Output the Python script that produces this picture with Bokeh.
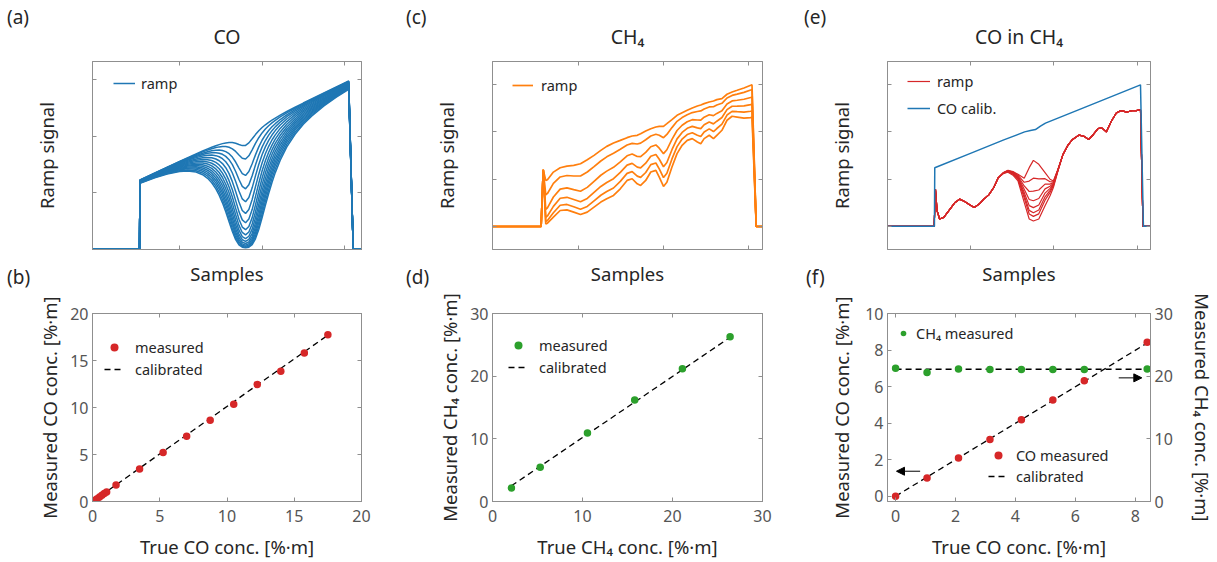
import numpy as np
from bokeh.plotting import figure
from bokeh.models import (Range1d, LinearAxis, FixedTicker, Legend, LegendItem,
                          Arrow, NormalHead, GridBox, Div)
from bokeh.embed import file_html
from bokeh.resources import INLINE

# ------------------------------------------------------------------ data
# (a) CO ramps: sample axis, CO-free ramp, normalised CO line shape, peak absorbance per ramp
co_samples = [-6, 51.5, 52, 70, 85, 100, 110, 120, 128, 134, 139, 144,
              148, 152, 156, 160, 164, 168, 172, 176, 180, 184,
              188, 192, 196, 200, 204, 208, 212, 216, 222, 230,
              240, 250, 260, 275, 290, 305, 310.5, 321]
co_ramp_base = [0, 0, 1.23, 1.354, 1.458, 1.562, 1.631, 1.700, 1.756, 1.797, 1.832, 1.866,
                1.894, 1.922, 1.949, 1.977, 2.005, 2.032, 2.060, 2.088, 2.115, 2.143,
                2.171, 2.198, 2.226, 2.254, 2.281, 2.309, 2.337, 2.364, 2.406, 2.461,
                2.530, 2.600, 2.669, 2.772, 2.876, 2.980, 0, 0]
co_line_shape = [0, 0, 0.0116, 0.0156, 0.0208, 0.0291, 0.0377, 0.0506, 0.0663, 0.0832, 0.1025, 0.129,
                 0.158, 0.197, 0.25, 0.324, 0.429, 0.571, 0.75, 0.923, 1.0, 0.923,
                 0.75, 0.571, 0.429, 0.324, 0.25, 0.197, 0.158, 0.129, 0.0982, 0.0713,
                 0.0506, 0.0377, 0.0291, 0.0208, 0.0156, 0.0121, 0, 0]
co_peak_absorbance = [0.14, 0.28, 0.48, 0.68, 0.92, 1.2, 1.5, 1.8,
                      2.1, 2.4, 2.7, 3.0, 3.3, 3.6, 3.95, 4.3]

# (b) CO calibration
co_true = [0.175, 0.35, 0.525, 0.7, 0.875, 1.05, 1.75, 3.5, 5.25, 7.0,
           8.75, 10.5, 12.25, 14.0, 15.75, 17.5]
co_measured = [0.12, 0.3, 0.48, 0.66, 0.85, 1.02, 1.75, 3.45, 5.2, 6.95,
               8.65, 10.35, 12.45, 13.85, 15.8, 17.75]
co_cal_x = [0.0, 17.5]
co_cal_y = [0.0, 17.7]

# (c) CH4 ramps: sample axis, lowest-concentration ramp, CH4 absorbance per %.m
ch4_samples = [-2, 55.5, 58, 61, 63, 70, 78, 86, 94, 102, 110, 118, 126,
               133, 141, 149, 157, 163, 169, 173, 179, 185, 191,
               195, 200, 204, 210, 216, 222, 228, 234, 240, 244,
               248, 254, 259, 263, 269, 275, 281, 287, 295, 303,
               304.5, 309.5, 317]
ch4_ramp_lowest = [0, 0, 1.2, 0.975, 0.989, 1.151, 1.243, 1.278, 1.292, 1.328, 1.412, 1.504, 1.610,
                   1.695, 1.766, 1.822, 1.879, 1.914, 1.928, 1.963, 2.020, 2.069, 2.105,
                   2.119, 2.119, 2.175, 2.260, 2.352, 2.408, 2.458, 2.507, 2.549, 2.571,
                   2.599, 2.634, 2.655, 2.684, 2.705, 2.797, 2.846, 2.881, 2.931, 2.987,
                   3.0, 0, 0]
ch4_absorbance = [0, 0, 0, 0.1176, 0.1084, 0.0724, 0.0535, 0.0530, 0.0595, 0.0681, 0.0632, 0.0535, 0.0468,
                  0.0437, 0.0407, 0.0340, 0.0270, 0.0263, 0.0312, 0.0335, 0.0300, 0.0241, 0.0236,
                  0.0291, 0.0377, 0.0346, 0.0241, 0.0174, 0.0139, 0.0123, 0.0123, 0.0146, 0.0158,
                  0.0138, 0.0128, 0.0147, 0.0136, 0.0117, 0.0090, 0.0082, 0.0090, 0.0101, 0.0107,
                  0.0107, 0, 0]

# (d) CH4 calibration
ch4_true = [2.1, 5.3, 10.55, 15.8, 21.1, 26.4]
ch4_measured = [2.14, 5.46, 10.93, 16.18, 21.2, 26.3]
ch4_cal_x = [2.1, 26.3]
ch4_cal_y = [2.5, 26.1]

# (e) CO in CH4 ramps: CO-free ramp, CO absorbance per %.m, CO calibration ramp
mix_samples = [0, 56.5, 58, 60, 63, 68, 75.5, 81.5, 87, 93,
               99, 104.5, 110.5, 116, 122, 128, 133.5, 139.5, 145, 151,
               157, 164.5, 170.5, 175.5, 182, 189.5, 195.5, 199.5, 205, 211,
               217, 222.5, 230, 236, 242, 247.5, 253, 257.5, 263, 269,
               275, 280.5, 288, 294, 299, 304, 307, 316.5]
mix_ramp_co_free = [0, 0, 0.79, 0.33, 0.155, 0.19, 0.366, 0.506, 0.576, 0.527,
                    0.457, 0.40, 0.471, 0.576, 0.667, 0.822, 1.032, 1.137, 1.186, 1.158,
                    1.102, 1.018, 1.243, 1.397, 1.313, 1.137, 0.997, 0.962, 1.208, 1.523,
                    1.72, 1.839, 1.93, 1.909, 1.839, 1.945, 2.071, 2.085, 2.0, 2.225,
                    2.401, 2.45, 2.42, 2.45, 2.45, 2.47, 0, 0]
mix_co_absorbance = [0, 0, 0, 0, 0, 0, 0, 0, 0, 0,
                     0, 0, 0, 0, 0, 0, 0, 0.002, 0.004, 0.008,
                     0.016, 0.083, 0.248, 0.30, 0.254, 0.114, 0.0515, 0.0187, 0.0035, 0,
                     0, 0, 0, 0, 0, 0, 0, 0, 0, 0,
                     0, 0, 0, 0, 0, 0, 0, 0]
calib_samples = [0, 56.8, 57.2, 100, 140, 165, 172, 178, 184, 190, 240, 304, 307.5, 316.5]
calib_ramp = [0, 0, 1.24, 1.546, 1.83, 2.0, 2.03, 2.05, 2.12, 2.186, 2.541, 2.996, 0, 0]

# (f) CO in CH4 calibration
mix_co_true = [0, 1.05, 2.1, 3.15, 4.2, 5.25, 6.3, 8.4]
mix_co_measured = [0.0, 1.0, 2.1, 3.11, 4.19, 5.28, 6.33, 8.45]
mix_ch4_measured = [21.25, 20.6, 21.15, 21.05, 21.05, 21.05, 21.05, 21.15]
mix_co_cal_x = [0.0, 8.4]
mix_co_cal_y = [0.0, 8.4]
mix_ch4_cal_x = [0.0, 8.4]
mix_ch4_cal_y = [21.1, 21.1]

# tick values
ramp_x_ticks = [100, 200, 300]
ramp_y_ticks = [0, 1, 2, 3]
co_ticks = [0, 5, 10, 15, 20]
ch4_ticks = [0, 10, 20, 30]
mix_x_ticks = [0, 2, 4, 6, 8]
mix_co_ticks = [0, 2, 4, 6, 8, 10]
mix_ch4_ticks = [0, 10, 20, 30]

# transmitted ramps (Beer-Lambert on the read profiles)
co_ramps = [[b * np.exp(-a * s) for b, s in zip(co_ramp_base, co_line_shape)]
            for a in co_peak_absorbance]
ch4_ramps = [[t * np.exp(-(c - ch4_true[0]) * q) for t, q in zip(ch4_ramp_lowest, ch4_absorbance)]
             for c in ch4_true]
mix_ramps = [[r * np.exp(-c * k) for r, k in zip(mix_ramp_co_free, mix_co_absorbance)]
             for c in mix_co_true]

# ------------------------------------------------------------------ style
FONT = "Noto Sans"
AXC = "#8f8f8f"
TXT = "#262626"
TICKC = "#555555"
BLUE, ORANGE, GREEN, RED = "#1f77b4", "#ff7f0e", "#2ca02c", "#d62728"


def base_fig(w, h, bl, br, bt, bb, xr, yr, title=None):
    p = figure(width=w, height=h, x_range=Range1d(*xr), y_range=Range1d(*yr),
               output_backend="svg", toolbar_location=None, title=title,
               min_border_left=bl, min_border_right=br,
               min_border_top=bt, min_border_bottom=bb)
    p.grid.visible = False
    p.outline_line_color = AXC
    p.background_fill_color = "white"
    p.border_fill_color = "white"
    return p


def style_axis(ax, ticks, labels=True, label=None, tick_standoff=4, label_standoff=10):
    ax.ticker = FixedTicker(ticks=ticks)
    ax.major_tick_in = 4
    ax.major_tick_out = 0
    ax.minor_tick_in = 0
    ax.minor_tick_out = 0
    ax.axis_line_color = AXC
    ax.major_tick_line_color = AXC
    ax.major_label_text_font = FONT
    if labels:
        ax.major_label_text_color = TICKC
        ax.major_label_text_font_size = "16px"
        ax.major_label_standoff = tick_standoff
    else:
        ax.major_label_text_color = None
        ax.major_label_text_font_size = "1px"
        ax.major_label_standoff = 0
    if label:
        ax.axis_label = label
        ax.axis_label_text_font = FONT
        ax.axis_label_text_font_size = "18.5px"
        ax.axis_label_text_font_style = "normal"
        ax.axis_label_text_color = TXT
        ax.axis_label_standoff = label_standoff


def mirror(p, xticks, yticks, right=True):
    top = LinearAxis()
    style_axis(top, xticks, labels=False)
    p.add_layout(top, "above")
    if right:
        r = LinearAxis()
        style_axis(r, yticks, labels=False)
        p.add_layout(r, "right")


def legend(p, items, loc, glyph_width=20, standoff=8, spacing=2):
    lg = Legend(items=[LegendItem(label=t, renderers=[r]) for t, r in items],
                location=loc, orientation="vertical",
                border_line_alpha=0, background_fill_alpha=0,
                padding=0, margin=0, spacing=spacing,
                glyph_width=glyph_width, glyph_height=20, label_height=20,
                label_standoff=standoff, label_text_font=FONT,
                label_text_font_size="14.5px", label_text_color=TXT)
    p.add_layout(lg)


def ramp_panel(w, bl, br, bt, xr, yr, name):
    p = base_fig(w, 290, bl, br, bt, 41, xr, yr, title=name)
    p.title.align = "center"
    p.title.text_font = FONT
    p.title.text_font_size = "19.5px"
    p.title.text_font_style = "normal"
    p.title.text_color = TXT
    p.title.standoff = 23
    style_axis(p.xaxis[0], ramp_x_ticks, labels=False, label="Samples", label_standoff=11)
    style_axis(p.yaxis[0], ramp_y_ticks, labels=False, label="Ramp signal", label_standoff=34)
    mirror(p, ramp_x_ticks, ramp_y_ticks)
    return p


# ------------------------------------------------------------------ (a)
pa = ramp_panel(408, 92, 47, 61, (-5.5, 320.5), (0, 3.32), "CO")
ra = pa.multi_line(xs=[co_samples] * len(co_ramps), ys=co_ramps, line_color=BLUE, line_width=1.5)
legend(pa, [("ramp", ra)], (21, 156), glyph_width=22, standoff=6)

# ------------------------------------------------------------------ (c)
pc = ramp_panel(400, 84, 46, 61, (-1.9, 316.9), (-0.486, 3.49), "CH\u2084")
rc = pc.multi_line(xs=[ch4_samples] * len(ch4_ramps), ys=ch4_ramps, line_color=ORANGE, line_width=1.7)
legend(pc, [("ramp", rc)], (20, 154), glyph_width=21, standoff=8)

# ------------------------------------------------------------------ (e)
pe = ramp_panel(409, 77, 60, 60, (0.5, 316.0), (-0.49, 3.49), "CO in CH\u2084")
re_ = pe.multi_line(xs=[mix_samples] * len(mix_ramps), ys=mix_ramps, line_color=RED, line_width=1.2)
rb = pe.line(calib_samples, calib_ramp, line_color=BLUE, line_width=1.5)
legend(pe, [("ramp", re_), ("CO calib.", rb)], (20, 131), glyph_width=23, standoff=7, spacing=7)

# ------------------------------------------------------------------ (b)
pb = base_fig(408, 272, 91, 47, 23, 61, (0, 20), (0, 20))
style_axis(pb.xaxis[0], co_ticks, label="True CO conc. [%\u00b7m]", tick_standoff=8, label_standoff=9)
style_axis(pb.yaxis[0], co_ticks, label="Measured CO conc. [%\u00b7m]", tick_standoff=4, label_standoff=5)
mirror(pb, co_ticks, co_ticks)
lb = pb.line(co_cal_x, co_cal_y, line_color="black", line_width=1.3, line_dash="6 4")
sb = pb.scatter(co_true, co_measured, size=7.5, fill_color=RED, line_color=None)
legend(pb, [("measured", sb), ("calibrated", lb)], (12, 122), glyph_width=20, standoff=11)

# ------------------------------------------------------------------ (d)
pd_ = base_fig(400, 272, 83, 46, 23, 61, (0, 30), (0, 30))
style_axis(pd_.xaxis[0], ch4_ticks, label="True CH\u2084 conc. [%\u00b7m]", tick_standoff=8, label_standoff=9)
style_axis(pd_.yaxis[0], ch4_ticks, label="Measured CH\u2084 conc. [%\u00b7m]", tick_standoff=4, label_standoff=5)
mirror(pd_, ch4_ticks, ch4_ticks)
ld = pd_.line(ch4_cal_x, ch4_cal_y, line_color="black", line_width=1.3, line_dash="6 4")
sd = pd_.scatter(ch4_true, ch4_measured, size=7.5, fill_color=GREEN, line_color=None)
legend(pd_, [("measured", sd), ("calibrated", ld)], (16, 124), glyph_width=20, standoff=11)

# ------------------------------------------------------------------ (f)
pf = base_fig(409, 272, 79, 63, 23, 61, (-0.27, 8.51), (-0.29, 10.02))
pf.extra_y_ranges = {"ch4": Range1d(0, 30)}
style_axis(pf.xaxis[0], mix_x_ticks, label="True CO conc. [%\u00b7m]", tick_standoff=8, label_standoff=9)
style_axis(pf.yaxis[0], mix_co_ticks, label="Measured CO conc. [%\u00b7m]", tick_standoff=4, label_standoff=8)
top_f = LinearAxis()
style_axis(top_f, mix_x_ticks, labels=False)
pf.add_layout(top_f, "above")
right_f = LinearAxis(y_range_name="ch4")
style_axis(right_f, mix_ch4_ticks, label="Measured CH\u2084 conc. [%\u00b7m]", tick_standoff=4, label_standoff=14)
pf.add_layout(right_f, "right")
lf1 = pf.line(mix_co_cal_x, mix_co_cal_y, line_color="black", line_width=1.3, line_dash="6 4")
pf.line(mix_ch4_cal_x, mix_ch4_cal_y, line_color="black", line_width=1.3, line_dash="6 4", y_range_name="ch4")
sf_co = pf.scatter(mix_co_true, mix_co_measured, size=7.5, fill_color=RED, line_color=None)
sf_ch4 = pf.scatter(mix_co_true, mix_ch4_measured, size=7.5, fill_color=GREEN, line_color=None, y_range_name="ch4")
legend(pf, [("CH\u2084 measured", sf_ch4)], (9, 158), glyph_width=14, standoff=6)
legend(pf, [("CO measured", sf_co), ("calibrated", lf1)], (101, 15), glyph_width=20, standoff=8, spacing=1)
pf.add_layout(Arrow(end=NormalHead(size=8, fill_color="black", line_color="black"),
                    x_start=0.82, y_start=1.37, x_end=0.03, y_end=1.37,
                    line_color="black", line_width=1))
pf.add_layout(Arrow(end=NormalHead(size=8, fill_color="black", line_color="black"),
                    x_start=7.45, y_start=6.49, x_end=8.22, y_end=6.49,
                    line_color="black", line_width=1))

# ------------------------------------------------------------------ panel letters (transparent overlay)
letters = [("(a)", 7, 4), ("(b)", 7, 264), ("(c)", 406, 4),
           ("(d)", 406, 264), ("(e)", 804, 4), ("(f)", 806, 264)]
spans = "".join(
    '<span style="position:absolute;left:%dpx;top:%dpx;font-family:\'Noto Sans\';'
    'font-size:19px;line-height:normal;color:%s;white-space:nowrap;">%s</span>' % (x, y, TXT, t)
    for t, x, y in letters)
ov = Div(text='<div style="position:relative;width:1217px;height:562px;">' + spans + '</div>',
         width=1217, height=562, margin=(0, 0, 0, 0))

layout = GridBox(children=[(pa, 0, 0), (pc, 0, 1), (pe, 0, 2),
                           (pb, 1, 0), (pd_, 1, 1), (pf, 1, 2),
                           (ov, 0, 0, 2, 3)], spacing=0)
open("out.html", "w").write(file_html(layout, INLINE))
